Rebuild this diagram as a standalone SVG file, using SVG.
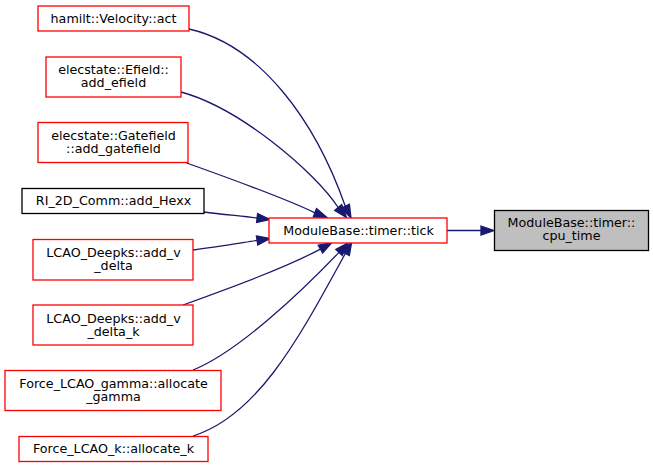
<svg xmlns="http://www.w3.org/2000/svg" width="653" height="468" viewBox="0 0 653 468">
<style>
  rect.red { fill: #ffffff; stroke: #ff0000; stroke-width: 1.3; }
  rect.blk { fill: #ffffff; stroke: #000000; stroke-width: 1.3; }
  rect.gry { fill: #bfbfbf; stroke: #000000; stroke-width: 1.3; }
  text { font-family: "DejaVu Sans", "Noto Sans", sans-serif; font-size: 12.7px; fill: #000000; text-anchor: middle; }
  path.edge { fill: none; stroke: #191970; stroke-width: 1.3; }
  polygon.head { fill: #191970; stroke: #191970; stroke-width: 1.3; }
</style>
<rect width="653" height="468" fill="#ffffff"/>
<g id="connectors">
  <path class="edge" d="M189,29 C260,45 315,120 345.3,206.3"/>
  <polygon class="head" points="341.3,208.3 351,218 349.4,204.3"/>
  <path class="edge" d="M181,92 C240,108 315,172 338.2,207.5"/>
  <polygon class="head" points="334.7,210.4 346.5,217.5 341.7,204.6"/>
  <path class="edge" d="M184,162 C220,175 280,196 314.9,212.8"/>
  <polygon class="head" points="316.5,208.6 327,217.5 313.3,217"/>
  <path class="edge" d="M204,212 C220,214 240,216 257.1,218"/>
  <polygon class="head" points="257.6,213.5 270,219.5 256.6,222.5"/>
  <path class="edge" d="M193,250 C215,247 240,243 257.1,240.4"/>
  <polygon class="head" points="256.4,236 270,238.5 257.8,244.9"/>
  <path class="edge" d="M183,305 C230,288 285,268 320.4,249.1"/>
  <polygon class="head" points="322.6,253 331.7,242.7 318.2,245.2"/>
  <path class="edge" d="M193,370 C238,352 301,292 339,252.4"/>
  <polygon class="head" points="342.2,255.5 348,243 335.8,249.3"/>
  <path class="edge" d="M193,436 C260,415 302,332 345.4,253.4"/>
  <polygon class="head" points="349.3,255.6 351.7,242 341.5,251.2"/>
  <path class="edge" d="M447,230.5 L481,230.5"/>
  <polygon class="head" points="481,226 494,230.5 481,235"/>
</g>
<g id="node-velocity-act">
  <rect class="red" x="38" y="6" width="151" height="25"/>
  <text x="113.5" y="22.5">hamilt::Velocity::act</text>
</g>
<g id="node-efield">
  <rect class="red" x="46" y="57" width="135" height="40"/>
  <text x="113.5" y="74">elecstate::Efield::</text>
  <text x="113.5" y="87">add_efield</text>
</g>
<g id="node-gatefield">
  <rect class="red" x="38" y="122.5" width="150" height="40"/>
  <text x="113.5" y="139.5">elecstate::Gatefield</text>
  <text x="113.5" y="152.5">::add_gatefield</text>
</g>
<g id="node-hexx">
  <rect class="blk" x="22" y="188.5" width="182" height="25"/>
  <text x="113.5" y="205">RI_2D_Comm::add_Hexx</text>
</g>
<g id="node-v-delta">
  <rect class="red" x="33" y="239.5" width="160" height="40.5"/>
  <text x="113.5" y="257">LCAO_Deepks::add_v</text>
  <text x="113.5" y="270">_delta</text>
</g>
<g id="node-v-delta-k">
  <rect class="red" x="33" y="305" width="160" height="40"/>
  <text x="113.5" y="322.5">LCAO_Deepks::add_v</text>
  <text x="113.5" y="335.5">_delta_k</text>
</g>
<g id="node-allocate-gamma">
  <rect class="red" x="5" y="370.5" width="216" height="40"/>
  <text x="113.5" y="387.5">Force_LCAO_gamma::allocate</text>
  <text x="113.5" y="400.5">_gamma</text>
</g>
<g id="node-allocate-k">
  <rect class="red" x="19" y="436.5" width="189" height="25"/>
  <text x="113.5" y="453">Force_LCAO_k::allocate_k</text>
</g>
<g id="node-tick">
  <rect class="red" x="269" y="218" width="178" height="25"/>
  <text x="358.5" y="234.5">ModuleBase::timer::tick</text>
</g>
<g id="node-cpu-time">
  <rect class="gry" x="494.5" y="210.5" width="154" height="40"/>
  <text x="571.5" y="227">ModuleBase::timer::</text>
  <text x="571.5" y="240">cpu_time</text>
</g>
</svg>
